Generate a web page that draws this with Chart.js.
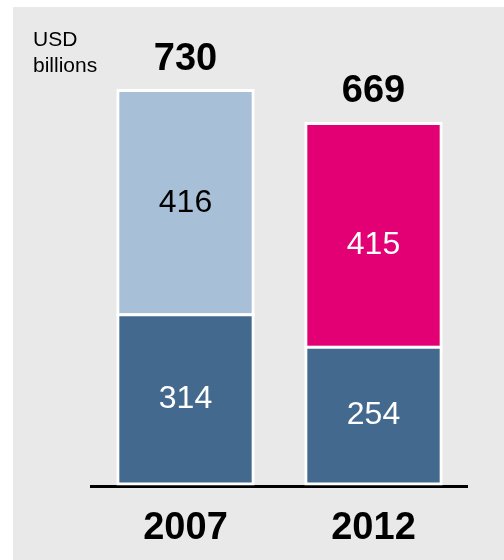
<!DOCTYPE html>
<html>
<head>
<meta charset="utf-8">
<script src="https://cdn.jsdelivr.net/npm/chart.js@4/dist/chart.umd.min.js"></script>
<style>
  html, body { margin: 0; padding: 0; background: #fff; }
  #panel { position: absolute; left: 13px; top: 7px; width: 491px; height: 553px; background: #e9e9e9; }
</style>
</head>
<body>
<div id="panel"><canvas id="chart"></canvas></div>
<script>
// stacked bar: two years, base + top segment, total above each stack
const years = ['2007', '2012'];
const baseValues = [314, 254];
const topValues = [416, 415];
const unitLines = ['USD', 'billions'];

const FONT = '"Liberation Sans", Arial, sans-serif';

// writes segment values, stack totals and the unit note
const valueLabels = {
  id: 'valueLabels',
  afterDatasetsDraw(chart) {
    const ctx = chart.ctx;
    ctx.save();
    ctx.textAlign = 'center';
    ctx.textBaseline = 'middle';
    ctx.font = '32px ' + FONT;
    chart.data.datasets.forEach((ds, i) => {
      chart.getDatasetMeta(i).data.forEach((bar, j) => {
        ctx.fillStyle = ds.labelColors[j];
        ctx.fillText(ds.data[j], bar.x, (bar.y + bar.base) / 2 + ds.labelShift[j]);
      });
    });

    ctx.font = 'bold 38px ' + FONT;
    ctx.textBaseline = 'alphabetic';
    ctx.fillStyle = '#000';
    const last = chart.data.datasets.length - 1;
    chart.getDatasetMeta(last).data.forEach((bar, j) => {
      const total = chart.data.datasets.reduce((sum, ds) => sum + ds.data[j], 0);
      ctx.fillText(total, bar.x, bar.y - 21);
    });

    ctx.font = '21px ' + FONT;
    ctx.textAlign = 'left';
    unitLines.forEach((line, k) => ctx.fillText(line, 20, 39 + k * 26));
    ctx.restore();
  }
};

new Chart(document.getElementById('chart'), {
  type: 'bar',
  data: {
    labels: years,
    datasets: [
      {
        data: baseValues,
        backgroundColor: '#436a8e',
        labelColors: ['#fff', '#fff'],
        labelShift: [0, 0],
      },
      {
        data: topValues,
        backgroundColor: ['#a8c0d7', '#e20074'],
        labelColors: ['#000', '#fff'],
        labelShift: [0, 10],
      },
    ],
  },
  options: {
    responsive: true,
    maintainAspectRatio: false,
    animation: false,
    layout: { padding: { left: 78.5, right: 36.5, top: 45.9, bottom: -11.3 } },
    datasets: {
      bar: {
        categoryPercentage: 1,
        barPercentage: 0.72,
        borderColor: '#fff',
        borderWidth: 3,
        borderSkipped: false,
        inflateAmount: 1.5,
      },
    },
    plugins: {
      legend: { display: false },
      tooltip: { enabled: false },
    },
    scales: {
      x: {
        stacked: true,
        grid: { display: false, drawTicks: false },
        border: { display: true, color: '#000', width: 3 },
        ticks: { color: '#000', padding: 19.5, font: { family: FONT, size: 38, weight: 'bold' } },
      },
      y: {
        stacked: true,
        display: false,
        min: -5,
        max: 800,
      },
    },
  },
  plugins: [valueLabels],
});
</script>
</body>
</html>
